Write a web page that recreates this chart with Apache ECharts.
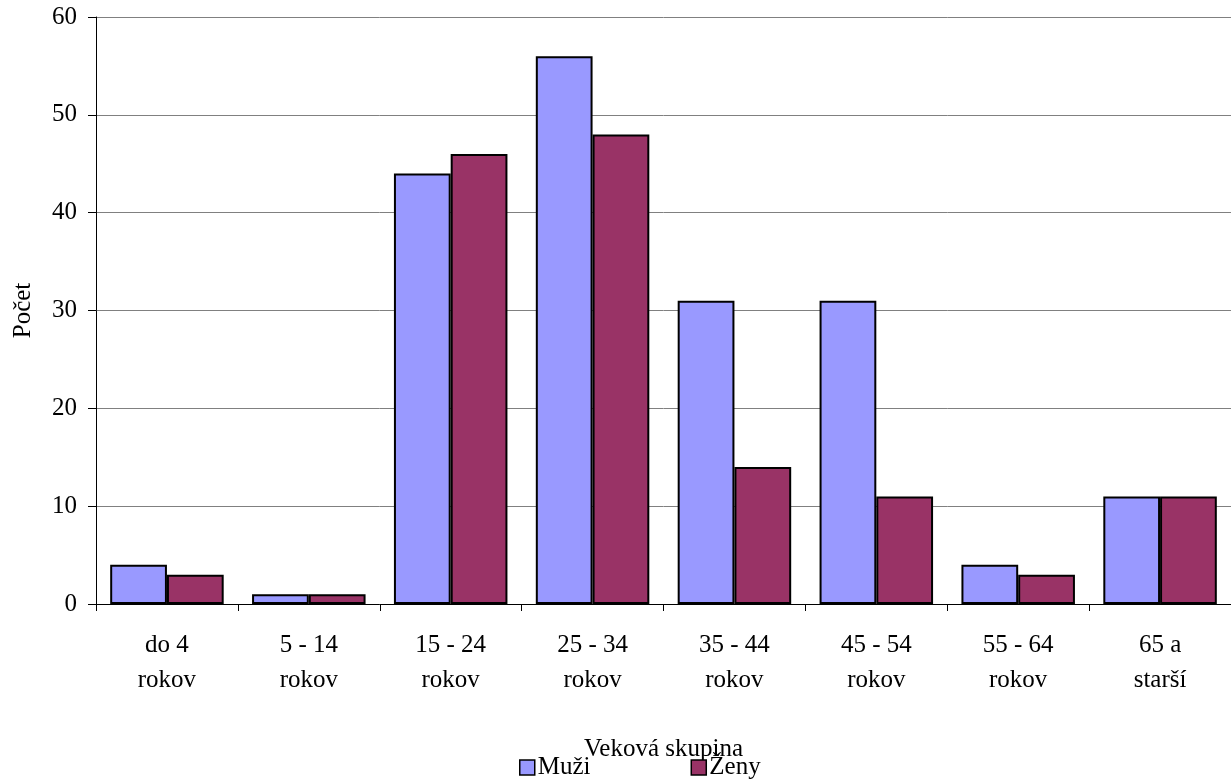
<!DOCTYPE html>
<html>
<head>
<meta charset="utf-8">
<script src="https://cdn.jsdelivr.net/npm/echarts@6/dist/echarts.min.js"></script>
<style>html,body{margin:0;padding:0;background:#fff;}#c{width:1231px;height:780px;}</style>
</head>
<body>
<div id="c"></div>
<script>
const categories = ["do 4\nrokov", "5 - 14\nrokov", "15 - 24\nrokov", "25 - 34\nrokov", "35 - 44\nrokov", "45 - 54\nrokov", "55 - 64\nrokov", "65 a\nstarší"];
const muzi = [4, 1, 44, 56, 31, 31, 4, 11];
const zeny = [3, 1, 46, 48, 14, 11, 3, 11];
const yTicks = [0, 10, 20, 30, 40, 50, 60];

const font = "Liberation Serif, Times New Roman, serif";
const FS = 25;
const chart = echarts.init(document.getElementById('c'));
chart.setOption({
  animation: false,
  textStyle: { fontFamily: font, color: '#000' },
  grid: { left: 96, right: 0, top: 17, bottom: 176, containLabel: false },
  legend: {
    top: 755, left: 519, padding: 0,
    itemGap: 100, itemWidth: 15, itemHeight: 15,
    textStyle: { fontFamily: font, fontSize: FS, color: '#000', padding: [0,0,0,-2] },
    data: [
      { name: 'Muži', icon: 'rect', itemStyle: { color: '#9999FF', borderColor: '#000', borderWidth: 1.5 } },
      { name: 'Ženy', icon: 'rect', itemStyle: { color: '#993366', borderColor: '#000', borderWidth: 1.5 } }
    ]
  },
  xAxis: {
    type: 'category',
    data: categories,
    name: 'Veková skupina',
    nameLocation: 'middle',
    nameGap: 133,
    nameTextStyle: { fontFamily: font, fontSize: FS, color: '#000' },
    axisLine: { lineStyle: { color: '#000', width: 1 } },
    axisTick: { show: true, length: 7, lineStyle: { color: '#000' } },
    axisLabel: { fontFamily: font, fontSize: FS, color: '#000', lineHeight: 35, margin: 24, interval: 0 }
  },
  yAxis: {
    type: 'value',
    min: 0, max: 60, interval: 10,
    name: 'Počet',
    nameLocation: 'middle',
    nameGap: 60,
    nameRotate: 90,
    nameTextStyle: { fontFamily: font, fontSize: FS, color: '#000' },
    axisLine: { show: true, lineStyle: { color: '#000', width: 1 } },
    axisTick: { show: true, length: 8, lineStyle: { color: '#000' } },
    axisLabel: { fontFamily: font, fontSize: FS, color: '#000', margin: 19,
      formatter: v => yTicks.includes(v) ? String(v) : '' },
    splitLine: { show: true, lineStyle: { color: '#808080', width: 1 } }
  },
  series: [
    { name: 'Muži', type: 'bar', data: muzi, barGap: '0%', barCategoryGap: '20%',
      itemStyle: { color: '#9999FF', borderColor: '#000', borderWidth: 2 } },
    { name: 'Ženy', type: 'bar', data: zeny, barGap: '0%', barCategoryGap: '20%',
      itemStyle: { color: '#993366', borderColor: '#000', borderWidth: 2 } }
  ]
});
</script>
</body>
</html>
